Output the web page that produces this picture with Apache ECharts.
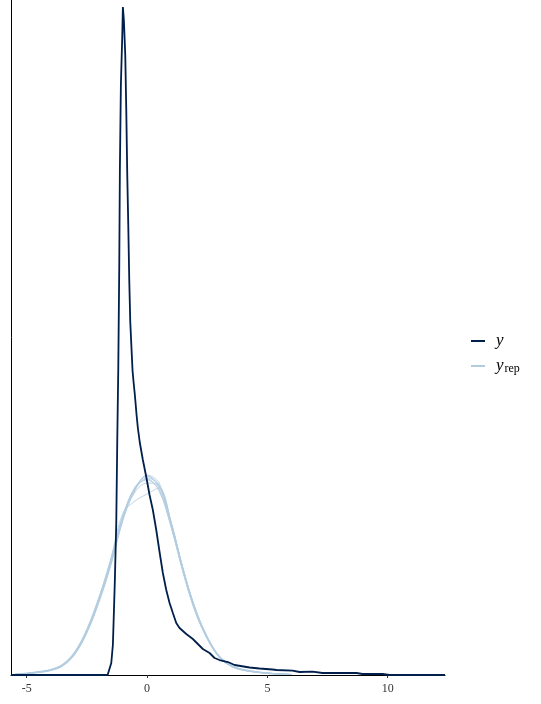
<!DOCTYPE html>
<html>
<head>
<meta charset="utf-8">
<script src="https://cdn.jsdelivr.net/npm/echarts@6/dist/echarts.min.js"></script>
<style>
html,body{margin:0;padding:0;background:#fff;}
#chart{width:541px;height:704px;}
</style>
</head>
<body>
<div id="chart"></div>
<script>
// Observed y density
const yX = [-5.654,-1.64,-1.558,-1.487,-1.421,-1.392,-1.338,-1.28,-1.238,-1.197,-1.155,-1.13,-1.088,-1.03,-1.005,-0.964,-0.906,-0.864,-0.823,-0.781,-0.74,-0.698,-0.644,-0.602,-0.561,-0.519,-0.478,-0.436,-0.382,-0.299,-0.174,-0.033,0.104,0.241,0.382,0.519,0.656,0.798,0.935,1.072,1.213,1.35,1.629,1.903,2.11,2.318,2.597,2.805,3.012,3.357,3.635,4.258,4.674,5.214,5.38,6.045,6.336,6.876,7.291,8.704,8.953,9.784,10.07,12.38];
const yDens = [0,0,0.004,0.024,0.06,0.104,0.19,0.304,0.47,0.61,0.82,1.01,1.18,1.28,1.336,1.31,1.24,1.13,1.0,0.90,0.79,0.706,0.65,0.608,0.586,0.566,0.544,0.52,0.494,0.464,0.43,0.396,0.36,0.33,0.29,0.246,0.204,0.17,0.144,0.124,0.104,0.094,0.082,0.072,0.062,0.052,0.044,0.034,0.030,0.026,0.020,0.015,0.013,0.011,0.010,0.0086,0.006,0.0066,0.004,0.004,0.002,0.002,0,0];

// Replicated densities (yrep), common grid
const repX = [-5.5,-5,-4.5,-4,-3.5,-3,-2.5,-2,-1.5,-1,-0.5,0,0.5,1,1.5,2,2.5,3,3.5,4,4.5,5,5.5,6];
const rep1 = [0.001,0.003,0.006,0.011,0.021,0.046,0.091,0.154,0.230,0.318,0.372,0.398,0.378,0.298,0.204,0.126,0.072,0.035,0.017,0.009,0.006,0.004,0.002,0.001];
const rep2 = [0.001,0.003,0.005,0.009,0.018,0.041,0.084,0.145,0.220,0.310,0.370,0.400,0.384,0.306,0.212,0.134,0.076,0.038,0.019,0.010,0.006,0.003,0.002,0.001];
const rep3 = [0.002,0.004,0.007,0.011,0.022,0.047,0.092,0.156,0.232,0.320,0.374,0.390,0.368,0.296,0.206,0.128,0.073,0.036,0.018,0.011,0.007,0.004,0.002,0.001];
const rep4 = [0.001,0.003,0.006,0.010,0.020,0.044,0.088,0.152,0.234,0.324,0.348,0.362,0.374,0.306,0.212,0.132,0.075,0.037,0.018,0.010,0.006,0.003,0.002,0.001];
const rep5 = [0.001,0.003,0.006,0.010,0.019,0.043,0.086,0.148,0.224,0.314,0.370,0.394,0.380,0.304,0.210,0.131,0.075,0.037,0.019,0.010,0.006,0.004,0.002,0.001];
const rep6 = [0.001,0.003,0.006,0.010,0.020,0.045,0.090,0.151,0.228,0.318,0.376,0.392,0.370,0.296,0.206,0.128,0.073,0.035,0.017,0.010,0.006,0.004,0.002,0.001];
const rep7 = [0.001,0.003,0.005,0.009,0.019,0.042,0.086,0.147,0.222,0.312,0.374,0.398,0.374,0.302,0.210,0.132,0.076,0.038,0.019,0.011,0.007,0.004,0.002,0.001];
const rep8 = [0.001,0.003,0.006,0.010,0.020,0.044,0.087,0.149,0.225,0.314,0.366,0.384,0.378,0.304,0.212,0.133,0.077,0.038,0.019,0.010,0.006,0.003,0.002,0.001];
const reps = [rep1, rep2, rep3, rep4, rep5, rep6, rep7, rep8];

const xTicks = [-5, 0, 5, 10];
const xMin = -5.654, xMax = 12.38;
const yMax = 1.35;

const darkColor = '#011f4b';
const lightColor = '#b3cde0';

const series = reps.map(r => ({
  name: 'yrep',
  type: 'line',
  data: repX.map((x, i) => [x, r[i]]),
  showSymbol: false,
  smooth: 0.35,
  color: lightColor,
  lineStyle: { color: lightColor, width: 1, opacity: 0.85 },
  itemStyle: { color: lightColor },
  z: 2
}));
series.push({
  name: 'y',
  type: 'line',
  data: yX.map((x, i) => [x, yDens[i]]),
  showSymbol: false,
  smooth: false,
  clip: false,
  color: darkColor,
  lineStyle: { color: darkColor, width: 1.8 },
  itemStyle: { color: darkColor },
  z: 5
});

const chart = echarts.init(document.getElementById('chart'), null, { renderer: 'canvas' });
chart.setOption({
  animation: false,
  backgroundColor: '#ffffff',
  grid: { left: 11, right: 96, top: 0, bottom: 29, containLabel: false },
  legend: {
    orient: 'vertical',
    left: 466,
    top: 327,
    itemGap: 7,
    itemWidth: 14,
    itemHeight: 2,
    icon: 'rect',
    data: [
      { name: 'y', itemStyle: { color: darkColor } },
      { name: 'yrep', itemStyle: { color: lightColor } }
    ],
    formatter: function (name) {
      return name === 'y' ? '{i|y}' : '{i|y}{s|rep}';
    },
    textStyle: {
      padding: [0, 0, 0, 6],
      rich: {
        i: { fontFamily: 'Liberation Serif', fontStyle: 'italic', fontSize: 17, color: '#000', height: 18, lineHeight: 18 },
        s: { fontFamily: 'Liberation Serif', fontSize: 12, color: '#000', padding: [5, 0, 0, 1] }
      }
    }
  },
  xAxis: {
    type: 'value',
    min: xMin,
    max: xMax,
    axisLine: { show: true, onZero: false, lineStyle: { color: '#000', width: 1 } },
    axisTick: { show: true, length: 3, customValues: xTicks, lineStyle: { color: '#333' } },
    axisLabel: { customValues: xTicks, fontFamily: 'Liberation Serif', fontSize: 12, color: '#333', margin: 8 },
    splitLine: { show: false }
  },
  yAxis: {
    type: 'value',
    min: 0,
    max: yMax,
    axisLine: { show: true, onZero: false, lineStyle: { color: '#000', width: 1 } },
    axisTick: { show: false },
    axisLabel: { show: false },
    splitLine: { show: false }
  },
  series: series
});
</script>
</body>
</html>
